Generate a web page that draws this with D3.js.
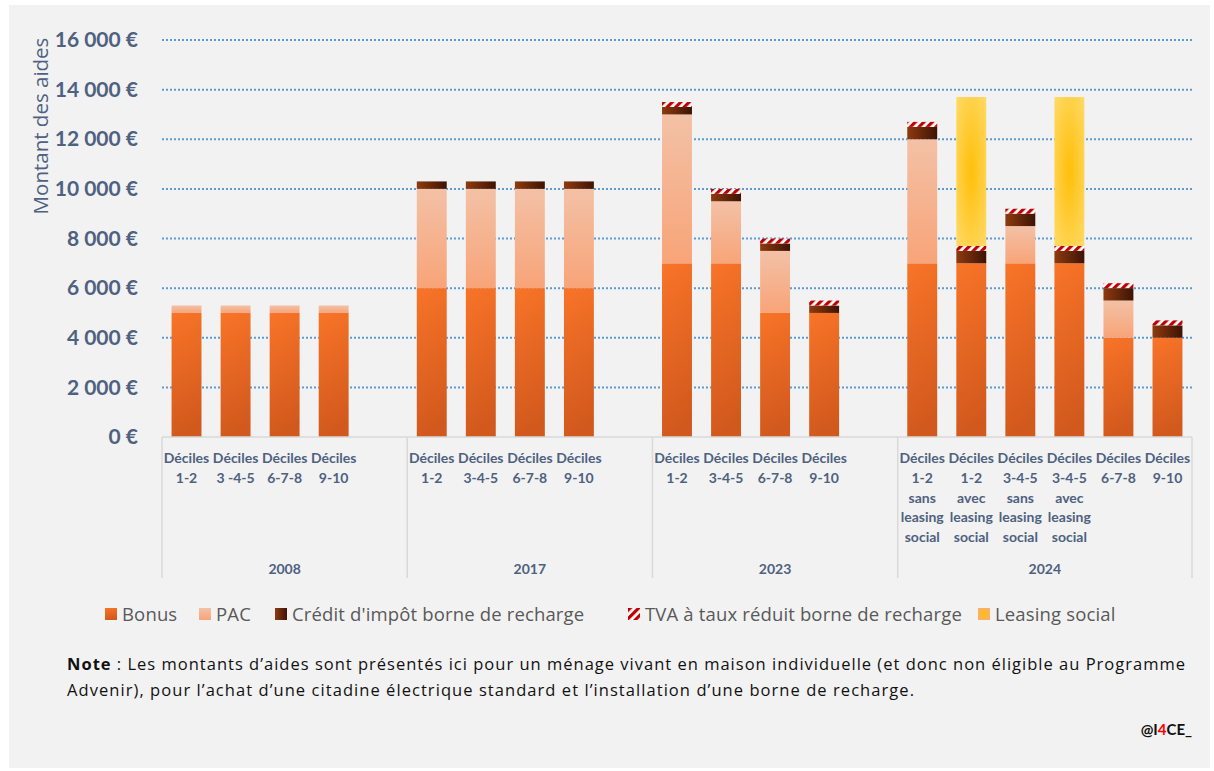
<!DOCTYPE html>
<html>
<head>
<meta charset="utf-8">
<script src="https://cdn.jsdelivr.net/npm/d3@7"></script>
<style>
  body { margin: 0; background: #fff; }
  svg { display: block; }
</style>
</head>
<body>
<div id="vis"></div>
<script>
// chart values
const catLabels = [
  "Déciles\n1-2", "Déciles\n3 -4-5", "Déciles\n6-7-8", "Déciles\n9-10", "",
  "Déciles\n1-2", "Déciles\n3-4-5", "Déciles\n6-7-8", "Déciles\n9-10", "",
  "Déciles\n1-2", "Déciles\n3-4-5", "Déciles\n6-7-8", "Déciles\n9-10", "",
  "Déciles\n1-2\nsans\nleasing\nsocial", "Déciles\n1-2\navec\nleasing\nsocial",
  "Déciles\n3-4-5\nsans\nleasing\nsocial", "Déciles\n3-4-5\navec\nleasing\nsocial",
  "Déciles\n6-7-8", "Déciles\n9-10"
];
const catGroups = [
  "2008", "2008", "2008", "2008", "2008",
  "2017", "2017", "2017", "2017", "2017",
  "2023", "2023", "2023", "2023", "2023",
  "2024", "2024", "2024", "2024", "2024", "2024"
];
const bonus   = [5000, 5000, 5000, 5000, 0, 6000, 6000, 6000, 6000, 0, 7000, 7000, 5000, 5000, 0, 7000, 7000, 7000, 7000, 4000, 4000];
const pac     = [300, 300, 300, 300, 0, 4000, 4000, 4000, 4000, 0, 6000, 2500, 2500, 0, 0, 5000, 0, 1500, 0, 1500, 0];
const credit  = [0, 0, 0, 0, 0, 300, 300, 300, 300, 0, 300, 300, 300, 300, 0, 500, 500, 500, 500, 500, 500];
const tva     = [0, 0, 0, 0, 0, 0, 0, 0, 0, 0, 200, 200, 200, 200, 0, 200, 200, 200, 200, 200, 200];
const leasing = [0, 0, 0, 0, 0, 0, 0, 0, 0, 0, 0, 0, 0, 0, 0, 0, 6000, 0, 6000, 0, 0];
const seriesNames = ["Bonus", "PAC", "Crédit d'impôt borne de recharge", "TVA à taux réduit borne de recharge", "Leasing social"];
const yTicks = [0, 2000, 4000, 6000, 8000, 10000, 12000, 14000, 16000];

const WIDTH = 1214;
const HEIGHT = 771;
const PLOT = {left: 162, right: 1192, top: 40, bottom: 437};
const TXT = "#4E6180";
const FONT = "Lato, 'Open Sans', sans-serif";
const WIDE = "'Open Sans', sans-serif";

const svg = d3.select("#vis").append("svg")
    .attr("width", WIDTH)
    .attr("height", HEIGHT);

// gradients and the hatch
const defs = svg.append("defs");
function linGrad(id, x2, y2, stops) {
  const g = defs.append("linearGradient").attr("id", id)
      .attr("x1", 0).attr("y1", 0).attr("x2", x2).attr("y2", y2);
  stops.forEach((s) => g.append("stop").attr("offset", s[0]).attr("stop-color", s[1]));
}
linGrad("gBonus", 0.15, 1, [[0, "#F87428"], [1, "#D2591D"]]);
linGrad("gPac", 0, 1, [[0, "#F3C1A6"], [1, "#F8A478"]]);
linGrad("gCredit", 1, 0, [[0, "#8E3B0F"], [1, "#3D1304"]]);
const rg = defs.append("radialGradient").attr("id", "gLeasing")
    .attr("cx", 0.5).attr("cy", 0.5).attr("r", 0.75);
rg.append("stop").attr("offset", 0).attr("stop-color", "#FFBF0A");
rg.append("stop").attr("offset", 1).attr("stop-color", "#FFDC6E");
const rg2 = defs.append("radialGradient").attr("id", "gLeasingKey")
    .attr("cx", 0.5).attr("cy", 0.5).attr("r", 0.6);
rg2.append("stop").attr("offset", 0).attr("stop-color", "#FFC000");
rg2.append("stop").attr("offset", 1).attr("stop-color", "#F8AE78");
const pat = defs.append("pattern").attr("id", "hatch")
    .attr("patternUnits", "userSpaceOnUse")
    .attr("width", 6).attr("height", 6)
    .attr("patternTransform", "rotate(45)");
pat.append("rect").attr("width", 6).attr("height", 6).attr("fill", "#fff");
pat.append("rect").attr("width", 3.2).attr("height", 6).attr("fill", "#C00000");

// background panel
svg.append("rect").attr("x", 9).attr("y", 5).attr("width", 1201).attr("height", 763).attr("fill", "#F2F2F2");

const idx = d3.range(catLabels.length);
const X = d3.scaleBand().domain(idx).range([PLOT.left, PLOT.right])
    .paddingInner(0.39).paddingOuter(0.195);
const Y = d3.scaleLinear().domain([0, 16000]).range([PLOT.bottom, PLOT.top]);
const slotStart = (i) => X(i) - (X.step() - X.bandwidth()) / 2;

// grid
svg.append("g").selectAll("line")
    .data(yTicks.filter((d) => d > 0))
    .enter().append("line")
      .attr("x1", PLOT.left).attr("x2", PLOT.right)
      .attr("y1", (d) => Y(d)).attr("y2", (d) => Y(d))
      .attr("stroke", "#5B9BD5").attr("stroke-width", 2)
      .attr("stroke-dasharray", "2,2");

// y axis labels
const fmt = (d) => d3.format(",")(d).replace(/,/g, " ") + " €";
const yAxis = svg.append("g")
    .attr("transform", "translate(" + (PLOT.left - 8) + ",0)")
    .call(d3.axisLeft(Y).tickValues(yTicks).tickFormat(fmt).tickSize(0).tickPadding(16));
yAxis.select(".domain").remove();
yAxis.selectAll("text")
    .attr("fill", TXT).attr("font-family", FONT)
    .attr("font-weight", "bold").attr("font-size", "21px");

svg.append("text")
    .attr("transform", "translate(48,126) rotate(-90)")
    .attr("text-anchor", "middle")
    .attr("fill", TXT).attr("font-family", WIDE).attr("font-size", "20.5px")
    .text("Montant des aides");

// stacked bars
const series = [
  {vals: bonus, fill: "url(#gBonus)"},
  {vals: pac, fill: "url(#gPac)"},
  {vals: credit, fill: "url(#gCredit)"},
  {vals: tva, fill: "url(#hatch)"},
  {vals: leasing, fill: "url(#gLeasing)"}
];
const rows = idx.map((i) => {
  let base = 0;
  return series.map((s, k) => {
    const seg = {i: i, k: k, y0: base, y1: base + s.vals[i]};
    base = seg.y1;
    return seg;
  });
});
svg.append("g").selectAll("g")
    .data(rows)
    .enter().append("g")
    .selectAll("rect")
    .data((d) => d.filter((s) => s.y1 > s.y0))
    .enter().append("rect")
      .attr("x", (d) => X(d.i))
      .attr("width", X.bandwidth())
      .attr("y", (d) => Y(d.y1))
      .attr("height", (d) => Y(d.y0) - Y(d.y1))
      .attr("fill", (d) => series[d.k].fill);

// category axis
const axisG = svg.append("g");
axisG.append("line")
    .attr("x1", PLOT.left).attr("x2", PLOT.right)
    .attr("y1", PLOT.bottom).attr("y2", PLOT.bottom)
    .attr("stroke", "#D9D9D9").attr("stroke-width", 1.5);
const groupStarts = idx.filter((i) => i === 0 || catGroups[i] !== catGroups[i - 1]);
const dividers = groupStarts.map(slotStart).concat([PLOT.right]);
axisG.selectAll(".div")
    .data(dividers)
    .enter().append("line")
      .attr("x1", (d) => d).attr("x2", (d) => d)
      .attr("y1", PLOT.bottom).attr("y2", 578)
      .attr("stroke", "#D9D9D9").attr("stroke-width", 1.5);

axisG.selectAll(".cat")
    .data(idx)
    .enter().append("text")
      .attr("text-anchor", "middle")
      .attr("fill", TXT).attr("font-family", FONT)
      .attr("font-weight", "bold").attr("font-size", "14px")
      .each(function (i) {
        const t = d3.select(this);
        catLabels[i].split("\n").forEach((line, j) => {
          if (!line) return;
          t.append("tspan")
            .attr("x", X(i) + X.bandwidth() / 2)
            .attr("y", 463 + j * 19.8)
            .text(line);
        });
      });

axisG.selectAll(".grp")
    .data(groupStarts)
    .enter().append("text")
      .attr("x", (d, j) => (dividers[j] + dividers[j + 1]) / 2)
      .attr("y", 574)
      .attr("text-anchor", "middle")
      .attr("fill", TXT).attr("font-family", FONT)
      .attr("font-weight", "bold").attr("font-size", "14px")
      .text((d) => catGroups[d]);

// legend
const legendX = [105, 199, 275, 628, 978];
const legendFill = ["url(#gBonus)", "url(#gPac)", "url(#gCredit)", "url(#hatch)", "url(#gLeasingKey)"];
const leg = svg.append("g").selectAll("g")
    .data(seriesNames)
    .enter().append("g")
      .attr("transform", (d, j) => "translate(" + legendX[j] + ",608)");
leg.append("rect").attr("width", 12).attr("height", 12)
    .attr("fill", (d, j) => legendFill[j]);
leg.append("text")
    .attr("x", 17).attr("y", 13)
    .attr("fill", "#595959").attr("font-family", WIDE).attr("font-size", "18.5px")
    .attr("letter-spacing", "0.15px")
    .text((d) => d);

// note and credit
const note = svg.append("g").attr("font-family", WIDE).attr("font-size", "16.5px").attr("fill", "#111");
const n1 = note.append("text").attr("x", 67).attr("y", 670)
    .attr("textLength", 1118).attr("lengthAdjust", "spacing");
n1.append("tspan").attr("font-weight", "bold").text("Note");
n1.append("tspan").text(" : Les montants d’aides sont présentés ici pour un ménage vivant en maison individuelle (et donc non éligible au Programme");
note.append("text").attr("x", 67).attr("y", 696)
    .attr("textLength", 847).attr("lengthAdjust", "spacing")
    .text("Advenir), pour l’achat d’une citadine électrique standard et l’installation d’une borne de recharge.");
const sig = svg.append("text").attr("x", 1192).attr("y", 735)
    .attr("text-anchor", "end").attr("font-family", FONT)
    .attr("font-weight", "bold").attr("font-size", "15px").attr("fill", "#111");
sig.append("tspan").text("@I");
sig.append("tspan").attr("fill", "#FF0000").text("4");
sig.append("tspan").text("CE_");
</script>
</body>
</html>
